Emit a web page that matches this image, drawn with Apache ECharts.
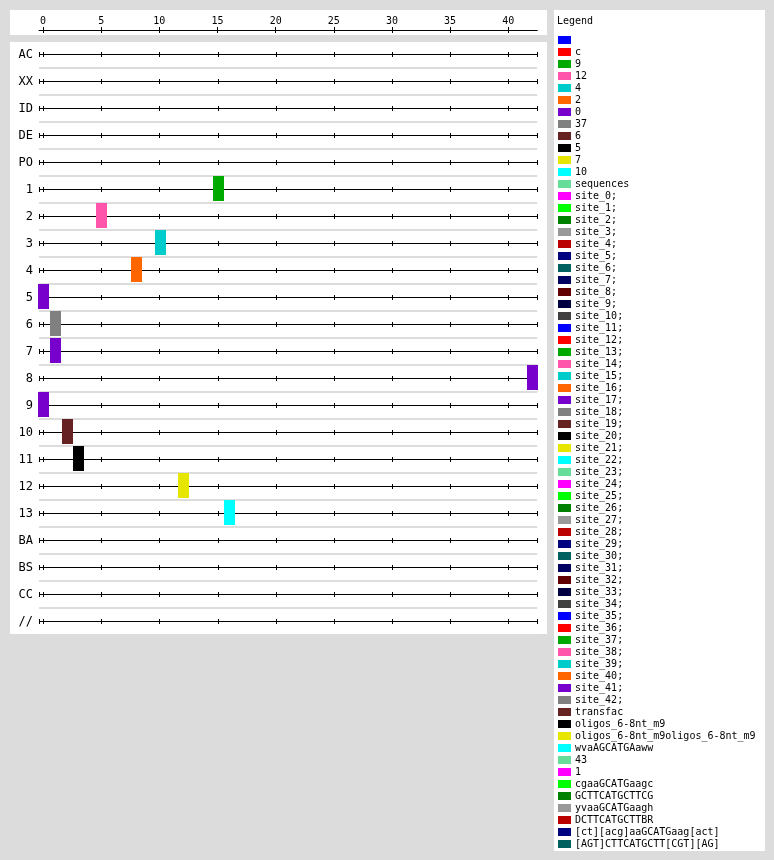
<!DOCTYPE html>
<html>
<head>
<meta charset="utf-8">
<title>Sites</title>
<script src="https://cdn.jsdelivr.net/npm/echarts@6/dist/echarts.min.js"></script>
<style>
  html, body { margin: 0; padding: 0; background: #dcdcdc; }
  #chart { width: 774px; height: 860px; }
</style>
</head>
<body>
<div id="chart"></div>
<script>
'use strict';

// rows of the feature map, top to bottom
const ROWS = ['AC', 'XX', 'ID', 'DE', 'PO', '1', '2', '3', '4', '5', '6', '7', '8',
  '9', '10', '11', '12', '13', 'BA', 'BS', 'CC', '//'];

// axis extent and tick labels
const X_MIN = -0.35;
const X_MAX = 42.5;
const TICKS = [0, 5, 10, 15, 20, 25, 30, 35, 40];

// one box per row: where it sits and which legend entry it belongs to
const SITE_ROWS = ['1', '2', '3', '4', '5', '6', '7', '8', '9', '10', '11', '12', '13'];
const SITE_POS = [15, 5, 10, 8, 0, 1, 1, 42, 0, 2, 3, 12, 16];
const SITE_KEY = ['9', '12', '4', '2', '0', '37', '0', '0', '0', '6', '5', '7', '10'];

// legend entries, in order
const LEGEND = ['', 'c', '9', '12', '4', '2', '0', '37', '6', '5', '7', '10', 'sequences']
  .concat(Array.from({ length: 43 }, (_, i) => 'site_' + i + ';'))
  .concat(['transfac', 'oligos_6-8nt_m9', 'oligos_6-8nt_m9oligos_6-8nt_m9', 'wvaAGCATGAaww',
    '43', '1', 'cgaaGCATGaagc', 'GCTTCATGCTTCG', 'yvaaGCATGaagh', 'DCTTCATGCTTBR',
    '[ct][acg]aaGCATGaag[act]', '[AGT]CTTCATGCTT[CGT][AG]']);

const PALETTE = ['#0000ff', '#ff0000', '#00aa00', '#ff55aa', '#00cccc', '#ff6600',
  '#7700cc', '#808080', '#662222', '#000000', '#e6e600', '#00ffff',
  '#66dd99', '#ff00ff', '#00ff00', '#008000', '#999999', '#bb0000',
  '#000080', '#006060', '#000060', '#600000', '#000040', '#404040'];

const MONO = '"DejaVu Sans Mono", "Liberation Mono", monospace';
const GRID_LEFT = 39;
const GRID_RIGHT = 774 - 537.3;

const legendName = n => (n === '' ? ' ' : n);

function renderSite(params, api) {
  const a = api.coord([api.value(0) - 0.5, api.value(1)]);
  const b = api.coord([api.value(0) + 0.5, api.value(1)]);
  const h = api.size([0, 1])[1] * 0.93;
  return {
    type: 'rect',
    shape: { x: Math.round(a[0]) + 1, y: Math.round(a[1] - h / 2 - 0.5), width: Math.round(b[0] - a[0]) - 1, height: Math.round(h) },
    style: { fill: api.visual('color') }
  };
}

function renderRowAxis(params, api) {
  const row = api.value(1);
  const s = api.coord([X_MIN, row]);
  const e = api.coord([X_MAX, row]);
  const y = Math.round(s[1] - 1) + 0.5;
  const children = [{
    type: 'line',
    shape: { x1: s[0], y1: y, x2: e[0], y2: y },
    style: { stroke: '#000', lineWidth: 1 }
  }];
  [X_MIN].concat(TICKS, [X_MAX]).forEach(v => {
    const x = Math.round(api.coord([v, row])[0]) + 0.5;
    children.push({
      type: 'line',
      shape: { x1: x, y1: y - 2.5, x2: x, y2: y + 2.5 },
      style: { stroke: '#000', lineWidth: 1 }
    });
  });
  return { type: 'group', children };
}

const siteSeries = LEGEND.map((name, i) => {
  const data = [];
  SITE_KEY.forEach((k, j) => {
    if (k === name) data.push([SITE_POS[j], SITE_ROWS[j]]);
  });
  return {
    type: 'custom',
    name: legendName(name),
    xAxisIndex: 0,
    yAxisIndex: 0,
    itemStyle: { color: PALETTE[i % PALETTE.length] },
    encode: { x: 0, y: 1 },
    renderItem: renderSite,
    clip: false,
    z: 5,
    data
  };
});

const chart = echarts.init(document.getElementById('chart'));
chart.setOption({
  animation: false,
  backgroundColor: '#dcdcdc',
  textStyle: { fontFamily: MONO },
  graphic: [
    { type: 'rect', z: -10, shape: { x: 10, y: 10, width: 537, height: 25 }, style: { fill: '#fff' } },
    { type: 'rect', z: -10, shape: { x: 10, y: 42, width: 537, height: 592 }, style: { fill: '#fff' } },
    { type: 'rect', z: -10, shape: { x: 554, y: 10, width: 211, height: 841 }, style: { fill: '#fff' } },
    { type: 'text', z: 10, x: 557, y: 21, style: { text: 'Legend', font: '10px ' + MONO, fill: '#000', verticalAlign: 'middle' } }
  ],
  legend: {
    data: LEGEND.map(legendName),
    orient: 'vertical',
    left: 558,
    top: 35,
    padding: 0,
    icon: 'rect',
    itemWidth: 13,
    itemHeight: 8,
    itemGap: 2,
    selectedMode: false,
    textStyle: { fontFamily: MONO, fontSize: 10, color: '#000', lineHeight: 8, padding: [0, 0, 0, -1] }
  },
  grid: [
    { left: GRID_LEFT, right: GRID_RIGHT, top: 41, height: 594 },
    { left: GRID_LEFT, right: GRID_RIGHT, top: 30, height: 0 }
  ],
  xAxis: [
    { gridIndex: 0, type: 'value', min: X_MIN, max: X_MAX, show: false },
    {
      gridIndex: 1, type: 'value', position: 'top', min: X_MIN, max: X_MAX,
      axisLine: { show: true, lineStyle: { color: '#000', width: 1 } },
      axisTick: { show: true, customValues: TICKS, length: 3, lineStyle: { color: '#000' } },
      axisLabel: { customValues: TICKS, margin: 4, fontFamily: MONO, fontSize: 10, color: '#000' },
      splitLine: { show: false }
    },
    {
      gridIndex: 1, type: 'value', position: 'bottom', min: X_MIN, max: X_MAX,
      axisLine: { show: false },
      axisTick: { show: true, customValues: TICKS, length: 3, lineStyle: { color: '#000' } },
      axisLabel: { show: false },
      splitLine: { show: false }
    }
  ],
  yAxis: [
    {
      gridIndex: 0, type: 'category', data: ROWS, inverse: true,
      axisLine: { show: false },
      axisTick: { show: false },
      axisLabel: { margin: 6, fontFamily: MONO, fontSize: 12, color: '#000' },
      splitLine: { show: true, lineStyle: { color: '#dddddd', width: 2 } }
    },
    { gridIndex: 1, type: 'value', show: false }
  ],
  series: siteSeries.concat([{
    type: 'custom',
    name: 'rowAxis',
    xAxisIndex: 0,
    yAxisIndex: 0,
    encode: { x: 0, y: 1 },
    renderItem: renderRowAxis,
    clip: false,
    z: 3,
    silent: true,
    data: ROWS.map(r => [0, r])
  }])
});
</script>
</body>
</html>
